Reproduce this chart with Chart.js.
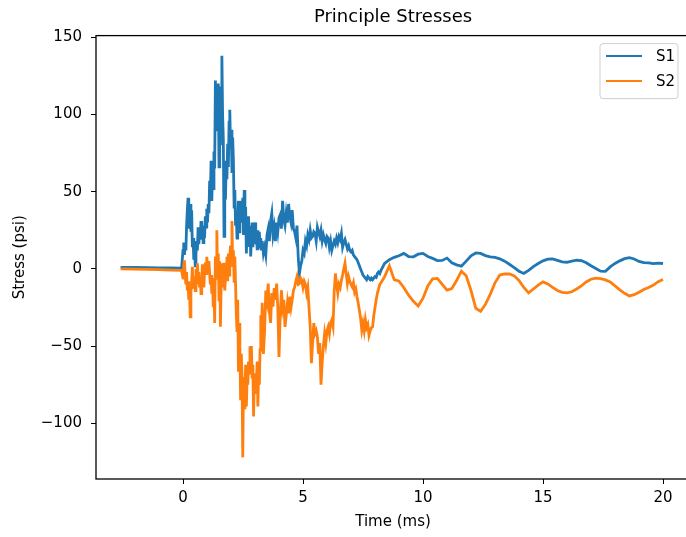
<!DOCTYPE html>
<html><head><meta charset="utf-8">
<script src="https://cdn.jsdelivr.net/npm/chart.js@4.4.0/dist/chart.umd.min.js"></script>
<style>
html,body{margin:0;padding:0;overflow:hidden;background:#fff;width:686px;height:537px}
#wrap{position:absolute;left:0;top:0;width:691px;height:537px}
canvas{display:block}
</style>
</head><body><div id="wrap"><canvas id="c" width="691" height="537"></canvas></div>
<script>
const chartTitle = 'Principle Stresses';
const xAxisTitle = 'Time (ms)';
const yAxisTitle = 'Stress (psi)';
const seriesNames = ['S1', 'S2'];
const xTicks = [0, 5, 10, 15, 20];
const yTicks = [-100, -50, 0, 50, 100, 150];
const xRange = [-3.625, 21.125];
const yRange = [-136, 151];

// shared sample times (ms)
const timeMs = [
  -2.6, -2.0, -1.5, -1.0, -0.5, -0.06,
  0.00, 0.03, 0.06, 0.09, 0.12, 0.15, 0.18, 0.21, 0.24, 0.27,
  0.30, 0.33, 0.36, 0.39, 0.42, 0.45, 0.48, 0.51, 0.54, 0.57,
  0.60, 0.63, 0.66, 0.69, 0.72, 0.75, 0.78, 0.81, 0.84, 0.87,
  0.90, 0.93, 0.96, 0.99, 1.02, 1.05, 1.08, 1.11, 1.14, 1.17,
  1.20, 1.23, 1.26, 1.29, 1.32, 1.35, 1.38, 1.41, 1.44, 1.47,
  1.50, 1.53, 1.56, 1.59, 1.62, 1.65, 1.68, 1.71, 1.74, 1.77,
  1.80, 1.83, 1.86, 1.89, 1.92, 1.95, 1.98, 2.01, 2.04, 2.07,
  2.10, 2.13, 2.16, 2.19, 2.22, 2.25, 2.28, 2.31, 2.34, 2.37,
  2.40, 2.43, 2.46, 2.49, 2.52, 2.55, 2.58, 2.61, 2.64, 2.67,
  2.70, 2.73, 2.76, 2.79, 2.82, 2.85, 2.88, 2.91, 2.94, 2.97,
  3.00, 3.03, 3.06, 3.09, 3.12, 3.15, 3.18, 3.21, 3.24, 3.27,
  3.30, 3.35, 3.40, 3.45, 3.50, 3.55, 3.60, 3.65, 3.70, 3.75,
  3.80, 3.85, 3.90, 3.95, 4.00, 4.05, 4.10, 4.15, 4.20, 4.25,
  4.30, 4.35, 4.40, 4.45, 4.50, 4.55, 4.60, 4.65, 4.70, 4.75,
  4.80, 4.85, 4.90, 4.95, 5.00, 5.05, 5.10, 5.15, 5.20, 5.25,
  5.30, 5.35, 5.40, 5.45, 5.50, 5.55, 5.60, 5.65, 5.70, 5.75,
  5.80, 5.85, 5.90, 5.95, 6.00, 6.05, 6.10, 6.15, 6.20, 6.25,
  6.30, 6.35, 6.40, 6.45, 6.50, 6.55, 6.60, 6.65, 6.70, 6.75,
  6.80, 6.85, 6.90, 6.95, 7.00, 7.05, 7.10, 7.15, 7.20, 7.25,
  7.30, 7.35, 7.40, 7.45, 7.50, 7.55, 7.60, 7.65, 7.70, 7.75,
  7.80, 7.85, 7.90, 7.95, 8.00, 8.05, 8.10, 8.15, 8.20, 8.25,
  8.4, 8.6, 8.8, 9.0, 9.2, 9.4, 9.6, 9.8, 10.0, 10.2,
  10.4, 10.6, 10.8, 11.0, 11.2, 11.4, 11.6, 11.8, 12.0, 12.2,
  12.4, 12.6, 12.8, 13.0, 13.2, 13.4, 13.6, 13.8, 14.0, 14.2,
  14.4, 14.6, 14.8, 15.0, 15.2, 15.4, 15.6, 15.8, 16.0, 16.2,
  16.4, 16.6, 16.8, 17.0, 17.2, 17.4, 17.6, 17.8, 18.0, 18.2,
  18.4, 18.6, 18.8, 19.0, 19.2, 19.4, 19.6, 19.8, 20.0
];

// S1 (psi)
const s1Stress = [
  1.0, 0.9, 0.8, 0.7, 0.6, 0.5,
  12, 17, 9, 16, 12, 28, 38, 46, 26, 35,
  42, 24, 38, 14, 20, 6, 12, 2, 9, 18,
  12, 27, 16, 24, 19, 31, 22, 28, 17, 26,
  20, 34, 27, 39, 30, 42, 36, 57, 48, 70,
  44, 62, 52, 76, 65, 122, 90, 117, 105, 120,
  66, 118, 80, 112, 138, 100, 84, 21, 60, 45,
  70, 58, 81, 66, 95, 103, 78, 90, 62, 85,
  70, 40, 51, 28, 36, 20, 30, 44, 24, 38,
  44, 30, 36, 46, 22, 51, 28, 40, 10, 25,
  18, 34, 15, 28, 8, 20, 30, 14, 21, 27,
  30, 16, 22, 13, 25, 18, 24, 14, 20, 12,
  18, 10, 14, 9, 22, 26, 18, 31, 36, 22,
  27, 18, 30, 24, 33, 35, 26, 44, 32, 28,
  36, 30, 42, 34, 30, 38, 26, 24, 20, 28,
  8, -3, 2, 5, 12, 10, 18, 15, 22, 19,
  25, 20, 21, 24, 23, 18, 27, 24, 21, 25,
  18, 22, 19, 16.5, 21, 20, 14, 18, 12, 15,
  18, 16, 20, 17, 21, 19, 23, 14, 17, 19,
  16, 13, 15, 12, 11, 12, 9, 8, 7, 6,
  4, 2, 0, -2, -4, -5, -6, -7, -5, -6,
  -7, -6, -7, -6, -5, -5.5, -3, -2, -3, -1,
  3.5, 6, 7.5, 8.5, 10, 8, 7.8, 9.5, 10, 8,
  6.8, 5.4, 5.5, 7, 4, 2.6, 1.8, 5, 8.5, 10.3,
  10, 8.6, 7.8, 7.5, 6.5, 5, 3, 0.8, -1.5, -3,
  -1, 1.5, 3.5, 5.2, 6.3, 6.5, 5.5, 4.5, 4.3, 5,
  5.6, 5.4, 4, 2, 0.3, -1.5, -1.6, 1.3, 3.5, 5.2,
  6.6, 7.3, 6.4, 4.8, 4.1, 3.9, 3.4, 3.7, 3.5
];

// S2 (psi)
const s2Stress = [
  0, -0.2, -0.3, -0.5, -0.8, -1.0,
  -6, 2, 5.6, -4, -10, -2, -14, -8, -20, -12,
  -31, -15, -9, 1.3, -12, -5, -8, -14, 0, -10,
  3.6, -6, -2, -12, -5, -16, -8, 3, -5, -12,
  0, 4, -3, 7.8, 2, -2, 5, -3, -10, -4,
  -16, -6, -24, -10, -35, 8, 0, 25, -7, 10,
  -20, 5, -37.5, -10, 3.6, -12, -5, 4, -14, -6,
  -2, 7.8, -8, 10, -4, 8, 15, 5, 31, 1.3,
  12, -8, 8, -10, -29, -40, -20, -66.5, -35, -50,
  -85, -55, -70, -122, -75, -90, -80.6, -62, -89, -70,
  -75, -60, -67.5, -50, -58, -50, -70, -62, -95.6, -72,
  -80, -67.5, -75, -60, -89, -65, -75, -52.5, -30, -45,
  -22, -55, -40, -14, -20, -9.5, -28, -35, -15.7, -24.5,
  -12.5, -20, -9.5, -25, -57, -30, -13.8, -25, -20, -37.5,
  -30, -22, -28.8, -18, -25, -20, -14, -12, -8, -5,
  -10, -9.5, -6, -7.4, -12, -8, -10, -15.7, -12, -25,
  -37.5, -61, -48, -35, -42, -40, -44, -55, -48, -75,
  -60, -50, -42, -48, -40, -37.5, -42, -35, -33, -37,
  -15, -3, -10, -15.7, -10, -12, -7.4, -4, 0, 3.6,
  -3, -9.5, -5, -8, -10, -11.6, -9, -15, -13, -18,
  -22, -27, -32, -39.6, -35, -40, -33, -38, -36, -43,
  -40, -38, -37.5, -30, -25, -20, -15.7, -13, -10, -9,
  -5, 2, -7, -8, -12, -17, -21, -24, -19, -11,
  -6.5, -6.2, -10, -13.8, -12.8, -7.5, -1.5, -4.5, -14, -25.5,
  -27.5, -23, -16.5, -9, -4, -3.3, -3.2, -4.5, -7.5, -12,
  -15.5, -13, -10.5, -8.4, -9.7, -12, -14, -15.2, -15.5, -14.8,
  -13, -11, -8.5, -6.7, -6, -6.3, -7.1, -8.5, -11, -13.6,
  -15.8, -17.5, -16.7, -15.1, -13.4, -12, -10.5, -8.3, -6.9
];

const seriesColors = ['#1f77b4', '#ff7f0e'];
const FONT = "'DejaVu Sans', sans-serif";
Chart.defaults.font.family = FONT;
Chart.defaults.color = '#000';

const toPoints = (t, v) => t.map((x, i) => ({ x: x, y: v[i] }));
const fmt = v => (v < 0 ? '\u2212' + Math.abs(v) : String(v));

const boxPlugin = {
  id: 'axesBox',
  afterDraw(chart) {
    const { ctx, chartArea: a } = chart;
    ctx.save();
    ctx.strokeStyle = '#000';
    ctx.lineWidth = 1.3;
    ctx.strokeRect(a.left, a.top, a.right - a.left, a.bottom - a.top);
    ctx.restore();
  }
};

const legendPlugin = {
  id: 'mplLegend',
  afterDraw(chart) {
    const { ctx, chartArea: a } = chart;
    const w = 78, h = 55;
    const x = a.right - 12 - w, y = a.top + 8, r = 3;
    ctx.save();
    ctx.beginPath();
    ctx.moveTo(x + r, y);
    ctx.arcTo(x + w, y, x + w, y + h, r);
    ctx.arcTo(x + w, y + h, x, y + h, r);
    ctx.arcTo(x, y + h, x, y, r);
    ctx.arcTo(x, y, x + w, y, r);
    ctx.closePath();
    ctx.fillStyle = 'rgba(255,255,255,0.8)';
    ctx.fill();
    ctx.strokeStyle = '#cfcfcf';
    ctx.lineWidth = 1;
    ctx.stroke();
    chart.data.datasets.forEach((ds, i) => {
      const ly = y + 12.5 + i * 25;
      ctx.beginPath();
      ctx.moveTo(x + 6, ly);
      ctx.lineTo(x + 42, ly);
      ctx.strokeStyle = ds.borderColor;
      ctx.lineWidth = 2;
      ctx.stroke();
      ctx.fillStyle = '#000';
      ctx.font = '15px ' + FONT;
      ctx.textBaseline = 'middle';
      ctx.textAlign = 'left';
      ctx.fillText(ds.label, x + 56, ly + 1);
    });
    ctx.restore();
  }
};

new Chart(document.getElementById('c'), {
  type: 'line',
  data: {
    datasets: [
      { label: seriesNames[0], data: toPoints(timeMs, s1Stress), borderColor: seriesColors[0], backgroundColor: seriesColors[0], borderWidth: 2.8, pointRadius: 0, tension: 0, order: 2, fill: false },
      { label: seriesNames[1], data: toPoints(timeMs, s2Stress), borderColor: seriesColors[1], backgroundColor: seriesColors[1], borderWidth: 2.8, pointRadius: 0, tension: 0, order: 1, fill: false }
    ]
  },
  options: {
    responsive: false,
    animation: false,
    events: [],
    layout: { padding: { left: 0, right: 1, top: 0, bottom: 0 } },
    plugins: {
      legend: { display: false },
      tooltip: { enabled: false },
      title: { display: true, text: chartTitle, fullSize: false, color: '#000', font: { size: 18, weight: 'normal', family: FONT }, padding: { top: 7, bottom: 7 } }
    },
    scales: {
      x: {
        type: 'linear', min: xRange[0], max: xRange[1],
        afterBuildTicks: s => { s.ticks = xTicks.map(v => ({ value: v })); },
        afterFit: s => { s.height = 58; },
        grid: { drawOnChartArea: false, drawTicks: true, tickLength: 5, color: '#000' },
        border: { display: false },
        ticks: { font: { size: 15, family: FONT }, color: '#000', padding: 5, maxRotation: 0, callback: v => fmt(v) },
        title: { display: true, text: xAxisTitle, color: '#000', font: { size: 15, family: FONT }, padding: { top: 0, bottom: 6 } }
      },
      y: {
        type: 'linear', min: yRange[0], max: yRange[1],
        afterBuildTicks: s => { s.ticks = yTicks.map(v => ({ value: v })); },
        afterFit: s => { s.width = 96; },
        grid: { drawOnChartArea: false, drawTicks: true, tickLength: 5, color: '#000' },
        border: { display: false },
        ticks: { font: { size: 15, family: FONT }, color: '#000', padding: 9, callback: v => fmt(v) },
        title: { display: true, text: yAxisTitle, color: '#000', font: { size: 15, family: FONT }, padding: { top: 11, bottom: 0 } }
      }
    }
  },
  plugins: [boxPlugin, legendPlugin]
});
</script>
</body></html>
